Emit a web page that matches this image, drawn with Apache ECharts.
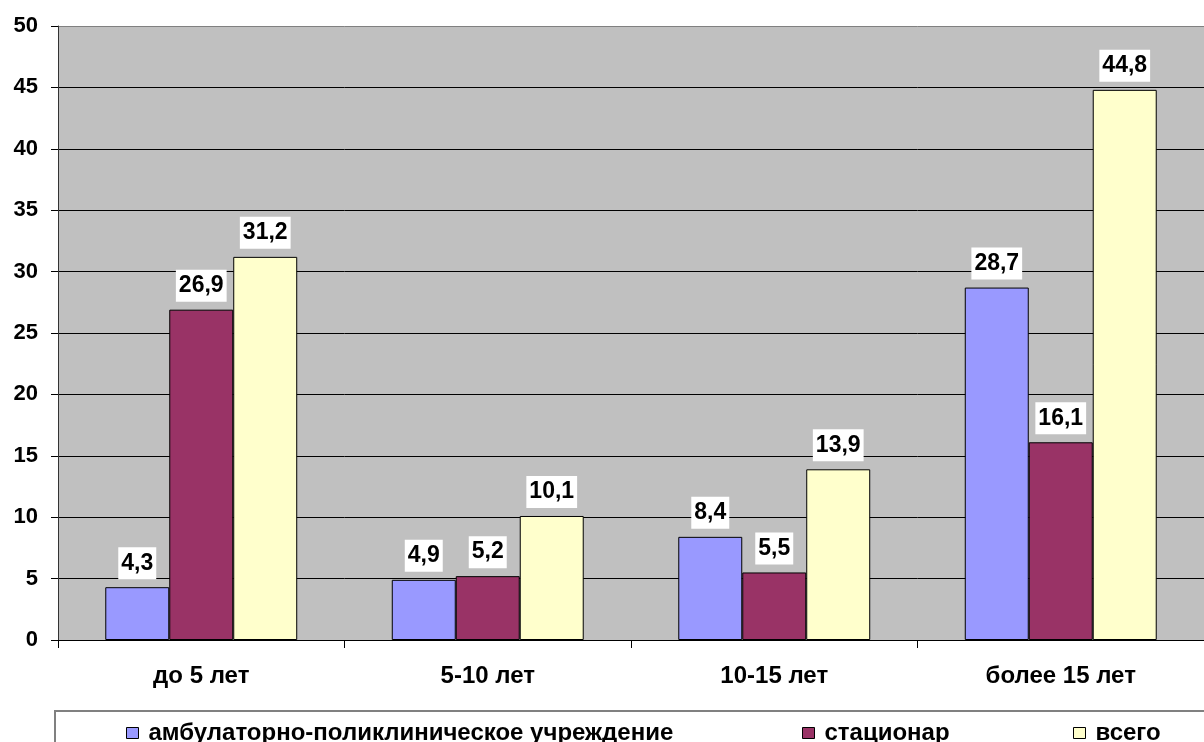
<!DOCTYPE html>
<html>
<head>
<meta charset="utf-8">
<style>
  html, body { margin: 0; padding: 0; background: #fff; }
  #chart { width: 1204px; height: 742px; }
</style>
<script src="https://cdn.jsdelivr.net/npm/echarts@6/dist/echarts.min.js"></script>
</head>
<body>
<div id="chart"></div>
<script>
// Стаж работы: группы по годам
const categories = ['до 5 лет', '5-10 лет', '10-15 лет', 'более 15 лет'];
const seriesNames = ['амбулаторно-поликлиническое учреждение', 'стационар', 'всего'];
const ambulatory = [4.3, 4.9, 8.4, 28.7];
const hospital = [26.9, 5.2, 5.5, 16.1];
const total = [31.2, 10.1, 13.9, 44.8];
const yTicks = [0, 5, 10, 15, 20, 25, 30, 35, 40, 45, 50];

const FONT = '"Liberation Sans", Arial, sans-serif';
const colors = ['#9999FF', '#993366', '#FFFFCC'];
const values = [ambulatory, hospital, total];

const chart = echarts.init(document.getElementById('chart'), null, { renderer: 'canvas' });

const splitColors = yTicks.map((t, i) => i === yTicks.length - 1 ? '#808080' : '#000000');

const series = values.map((data, i) => ({
  name: seriesNames[i],
  type: 'bar',
  data: data,
  barGap: 0,
  barCategoryGap: '33%',
  itemStyle: { color: colors[i], borderColor: '#000', borderWidth: 1 },
  label: {
    show: true,
    position: 'top',
    distance: 8,
    formatter: p => String(p.value).replace('.', ','),
    color: '#000',
    fontFamily: FONT,
    fontWeight: 'bold',
    fontSize: 23,
    lineHeight: 26,
    backgroundColor: '#fff',
    padding: [3, 3, 3, 3]
  }
}));

// one legend per series so each entry sits at its own spot
const legendLeft = [121, 797, 1068];
const legends = seriesNames.map((n, i) => ({
  data: [n],
  left: legendLeft[i],
  top: 716,
  itemWidth: 12,
  itemHeight: 11,
  icon: 'rect',
  selectedMode: false,
  itemStyle: { borderColor: '#000', borderWidth: 1 },
  textStyle: { fontFamily: FONT, fontWeight: 'bold', fontSize: 24, color: '#000', padding: [0, 0, 0, 5] }
}));

chart.setOption({
  animation: false,
  backgroundColor: '#fff',
  color: colors,
  grid: {
    left: 58, top: 26, bottom: 102, right: -10,
    show: true, backgroundColor: '#C0C0C0', borderWidth: 0
  },
  legend: legends,
  graphic: [{
    type: 'rect',
    shape: { x: 55, y: 711, width: 1170, height: 60 },
    style: { fill: 'none', stroke: '#808080', lineWidth: 2 },
    z: 0
  }],
  xAxis: {
    type: 'category',
    data: categories,
    axisLine: { lineStyle: { color: '#000', width: 1 } },
    axisTick: { show: true, length: 8, lineStyle: { color: '#000' } },
    axisLabel: { margin: 24, fontFamily: FONT, fontWeight: 'bold', fontSize: 24, color: '#000' }
  },
  yAxis: {
    type: 'value',
    min: 0, max: 50, interval: 5,
    axisLine: { show: true, lineStyle: { color: '#333', width: 1 } },
    axisTick: { show: true, length: 7, lineStyle: { color: '#000' } },
    axisLabel: { margin: 20, fontFamily: FONT, fontWeight: 'bold', fontSize: 22, color: '#000' },
    splitLine: { show: true, lineStyle: { color: splitColors, width: 1 } }
  },
  series: series
});
</script>
</body>
</html>
